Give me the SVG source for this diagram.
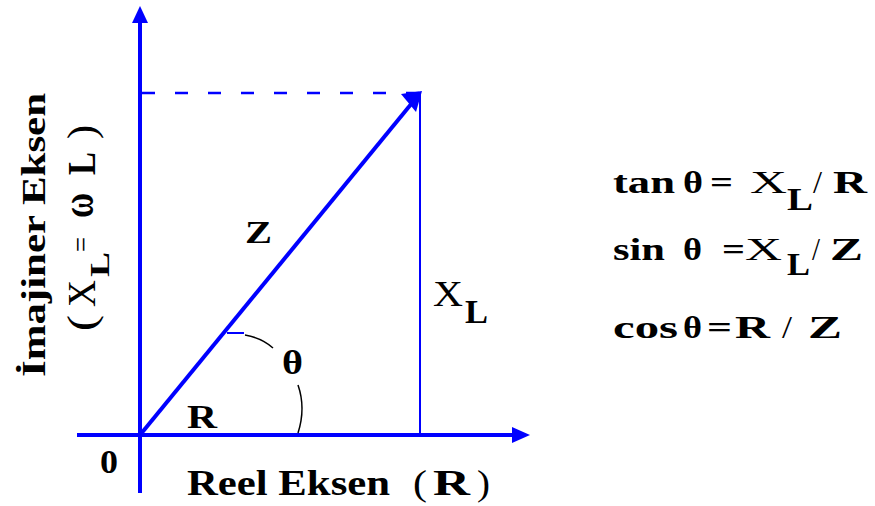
<svg xmlns="http://www.w3.org/2000/svg" width="875" height="506" viewBox="0 0 875 506">
<style>
.t{font-family:"Liberation Serif","Times New Roman",serif;font-weight:bold;fill:#000}
.n{font-weight:normal}
.ax{stroke:#0000ff;fill:none}
.arc{stroke:#000;stroke-width:1.5;fill:none}
.hd{fill:#0000ff}
</style>
<rect width="875" height="506" fill="#fff"/>
<g id="connectors">
  <line class="ax" x1="77" y1="435" x2="515" y2="435" stroke-width="4"/>
  <polygon class="hd" points="512,427 530,435 512,443"/>
  <line class="ax" x1="140" y1="493" x2="140" y2="20" stroke-width="4"/>
  <polygon class="hd" points="132,23 140,6 148,23"/>
  <line class="ax" x1="142" y1="93" x2="420" y2="93" stroke-width="2.5" stroke-dasharray="13 20"/>
  <line class="ax" x1="420" y1="92" x2="420" y2="435" stroke-width="2"/>
  <line class="ax" x1="140" y1="435" x2="412" y2="103" stroke-width="4"/>
  <polygon class="hd" points="422,91 401,94 416,112"/>
  <line class="ax" x1="227" y1="333" x2="244" y2="333" stroke-width="2"/>
  <path class="arc" d="M245,335 Q262,338 273,348"/>
  <path class="arc" d="M298,385 Q306,408 298,433"/>
</g>
<g id="yaxis-label">
  <text class="t" transform="translate(45,235) rotate(-90)" text-anchor="middle" font-size="33" textLength="284" lengthAdjust="spacingAndGlyphs">İmajiner Eksen</text>
  <g transform="translate(95,0) rotate(-90)" class="t" font-size="40">
    <text class="t n" x="-331" y="0" textLength="16" lengthAdjust="spacingAndGlyphs">(</text>
    <text class="t n" x="-307" y="0" textLength="27" lengthAdjust="spacingAndGlyphs">X</text>
    <text class="t" x="-277" y="14" font-size="28" textLength="25" lengthAdjust="spacingAndGlyphs">L</text>
    <text class="t n" x="-252" y="-4" font-size="30" textLength="15" lengthAdjust="spacingAndGlyphs">=</text>
    <text class="t" x="-218" y="-2" font-size="44" textLength="25" lengthAdjust="spacingAndGlyphs">ω</text>
    <text class="t" x="-175" y="0" textLength="23" lengthAdjust="spacingAndGlyphs">L</text>
    <text class="t n" x="-139" y="0" textLength="14" lengthAdjust="spacingAndGlyphs">)</text>
  </g>
</g>
<g id="xaxis-label">
  <text class="t" x="187" y="495" font-size="36" textLength="203" lengthAdjust="spacingAndGlyphs">Reel Eksen</text>
  <text class="t n" x="413" y="495" font-size="36" textLength="14" lengthAdjust="spacingAndGlyphs">(</text>
  <text class="t" x="433" y="495" font-size="36" textLength="37" lengthAdjust="spacingAndGlyphs">R</text>
  <text class="t n" x="477" y="495" font-size="36" textLength="13" lengthAdjust="spacingAndGlyphs">)</text>
</g>
<g id="origin"><text class="t" x="100" y="473" font-size="34" textLength="18" lengthAdjust="spacingAndGlyphs">0</text></g>
<g id="label-Z"><text class="t" x="245" y="243" font-size="32" textLength="27" lengthAdjust="spacingAndGlyphs">Z</text></g>
<g id="label-R"><text class="t" x="187" y="428" font-size="34" textLength="30" lengthAdjust="spacingAndGlyphs">R</text></g>
<g id="label-theta"><text class="t" x="282" y="374" font-size="34" textLength="21" lengthAdjust="spacingAndGlyphs">θ</text></g>
<g id="label-XL">
  <text class="t n" x="433" y="306" font-size="36" textLength="30" lengthAdjust="spacingAndGlyphs">X</text>
  <text class="t" x="465" y="323" font-size="34" textLength="23" lengthAdjust="spacingAndGlyphs">L</text>
</g>
<g id="formula-tan" font-size="32">
  <text class="t" x="613" y="193" textLength="62" lengthAdjust="spacingAndGlyphs">tan</text>
  <text class="t" x="683" y="193" textLength="20" lengthAdjust="spacingAndGlyphs">θ</text>
  <text class="t" x="710" y="193" textLength="23" lengthAdjust="spacingAndGlyphs">=</text>
  <text class="t n" x="750" y="193" textLength="37" lengthAdjust="spacingAndGlyphs">X</text>
  <text class="t" x="787" y="210" textLength="26" lengthAdjust="spacingAndGlyphs">L</text>
  <text class="t n" x="813" y="193" textLength="9" lengthAdjust="spacingAndGlyphs">/</text>
  <text class="t" x="833" y="193" textLength="34" lengthAdjust="spacingAndGlyphs">R</text>
</g>
<g id="formula-sin" font-size="32">
  <text class="t" x="613" y="260" textLength="52" lengthAdjust="spacingAndGlyphs">sin</text>
  <text class="t" x="683" y="260" textLength="19" lengthAdjust="spacingAndGlyphs">θ</text>
  <text class="t" x="722" y="260" textLength="23" lengthAdjust="spacingAndGlyphs">=</text>
  <text class="t n" x="745" y="260" textLength="37" lengthAdjust="spacingAndGlyphs">X</text>
  <text class="t" x="787" y="275" textLength="23" lengthAdjust="spacingAndGlyphs">L</text>
  <text class="t n" x="812" y="260" textLength="8" lengthAdjust="spacingAndGlyphs">/</text>
  <text class="t" x="830" y="260" textLength="33" lengthAdjust="spacingAndGlyphs">Z</text>
</g>
<g id="formula-cos" font-size="32">
  <text class="t" x="613" y="338" textLength="65" lengthAdjust="spacingAndGlyphs">cos</text>
  <text class="t" x="683" y="338" textLength="19" lengthAdjust="spacingAndGlyphs">θ</text>
  <text class="t" x="707" y="338" textLength="25" lengthAdjust="spacingAndGlyphs">=</text>
  <text class="t" x="735" y="338" textLength="35" lengthAdjust="spacingAndGlyphs">R</text>
  <text class="t n" x="782" y="338" textLength="10" lengthAdjust="spacingAndGlyphs">/</text>
  <text class="t" x="808" y="338" textLength="34" lengthAdjust="spacingAndGlyphs">Z</text>
</g>
</svg>
